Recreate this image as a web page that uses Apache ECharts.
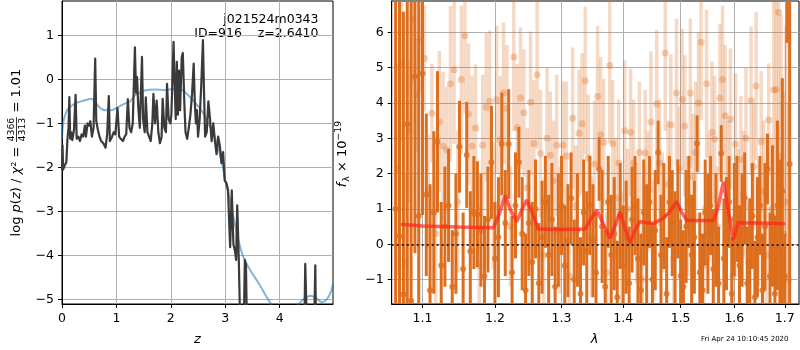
<!DOCTYPE html>
<html><head><meta charset="utf-8">
<script src="https://cdn.jsdelivr.net/npm/echarts@6/dist/echarts.min.js"></script>
<style>html,body{margin:0;padding:0;background:#fff}#c{width:800px;height:350px}</style>
</head><body><div id="c"></div>
<script>
// ---------- left panel: log p(z) ----------
const zTicks = [0, 1, 2, 3, 4];
const logpTicks = [-5, -4, -3, -2, -1, 0, 1];
const pzZ = [0.00,0.01,0.02,0.05,0.08,0.10,0.12,0.135,0.15,0.17,0.19,0.22,0.25,0.27,0.30,0.33,0.36,0.39,0.42,0.44,0.47,0.50,0.52,0.55,0.58,0.61,0.63,0.66,0.69,0.72,0.76,0.80,0.83,0.86,0.88,0.92,0.95,0.98,1.02,1.05,1.08,1.12,1.15,1.18,1.21,1.24,1.27,1.30,1.34,1.36,1.38,1.40,1.43,1.45,1.47,1.49,1.52,1.54,1.57,1.60,1.63,1.66,1.68,1.71,1.74,1.77,1.80,1.83,1.85,1.88,1.91,1.93,1.96,1.99,2.01,2.05,2.07,2.09,2.11,2.13,2.15,2.17,2.20,2.22,2.25,2.27,2.30,2.33,2.36,2.39,2.42,2.44,2.46,2.48,2.50,2.53,2.56,2.59,2.61,2.63,2.66,2.69,2.72,2.75,2.78,2.81,2.84,2.87,2.90,2.93,2.96,2.99,3.02,3.05,3.09,3.12,3.15,3.18,3.20,3.22,3.25,3.29,3.33,3.36,3.38,3.41,3.45,3.60,4.40,4.45,4.47,4.49,4.52,4.62,4.655,4.675,4.75,4.98];
const pzLogp = [-2.05,-1.5,-2.05,-1.95,-1.88,-1.35,-1.1,-0.40,-1.35,-1.2,-1.38,-1.15,-0.35,-1.35,-1.3,-1.4,-1.25,-1.3,-1.05,-1.3,-1.0,-1.05,-0.95,-1.3,-1.1,0.47,-0.95,-1.15,-1.3,-1.4,-1.45,-1.55,-1.25,-0.38,-1.4,-1.3,-1.2,-1.25,-0.65,-1.3,-1.35,-1.4,-1.3,-1.25,-0.45,-1.1,-1.2,-1.0,0.73,-0.3,0.05,-0.6,-1.1,-0.3,0.51,-0.9,-1.2,-0.41,-1.2,-1.3,-1.4,-1.0,-0.33,-1.0,-0.48,-1.2,-1.45,-1.3,-0.44,-1.1,-1.2,-0.10,-0.9,-1.0,-0.8,0.85,-0.1,-0.9,0.4,-0.8,0.2,-0.7,0.5,0.6,-0.6,-1.2,-1.35,-1.1,-0.8,-0.33,0.36,-0.5,-1.0,-0.7,-1.3,-0.9,-0.1,0.89,-0.3,-1.3,-1.2,-0.5,-0.9,-1.4,-1.0,-1.4,-1.7,-1.3,-1.5,-1.9,-1.65,-2.3,-2.35,-2.5,-3.81,-2.52,-3.75,-3.9,-4.1,-2.86,-4.15,-6.5,-6.5,-4.1,-4.2,-6.5,-7,-9,-9,-6,-4.19,-4.2,-6.5,-6.5,-4.22,-6.5,-9,-9];
const priorZ = [0,0.02,0.06,0.11,0.2,0.29,0.4,0.54,0.63,0.72,0.8,0.9,1.03,1.15,1.25,1.34,1.43,1.52,1.71,1.9,2.1,2.22,2.38,2.56,2.71,2.83,2.95,3.0,3.06,3.19,3.31,3.43,3.62,3.8,3.95,4.1,4.25,4.35,4.45,4.57,4.68,4.78,4.86,4.94,4.98];
const priorLogp = [-1.35,-1.0,-0.8,-0.67,-0.58,-0.52,-0.48,-0.44,-0.55,-0.67,-0.7,-0.7,-0.63,-0.55,-0.5,-0.36,-0.3,-0.25,-0.23,-0.24,-0.21,-0.25,-0.44,-0.7,-1.04,-1.39,-1.95,-2.3,-2.6,-3.36,-3.96,-4.27,-4.64,-5.02,-5.3,-5.4,-5.3,-5.1,-4.98,-4.91,-4.98,-5.06,-5.0,-4.83,-4.64];

// ---------- right panel: spectrum ----------
const waveTicks = [1.1, 1.2, 1.3, 1.4, 1.5, 1.6, 1.7];
const fluxTicks = [-1, 0, 1, 2, 3, 4, 5, 6];
const darkWave = [1.065,1.070,1.075,1.080,1.085,1.090,1.095,1.100,1.105,1.110,
1.115,1.120,1.125,1.130,1.135,1.140,1.145,1.150,1.155,1.160,
1.165,1.170,1.175,1.180,1.185,1.190,1.195,1.200,1.205,1.210,
1.215,1.220,1.225,1.230,1.235,1.240,1.245,1.250,1.255,1.260,
1.265,1.270,1.275,1.280,1.285,1.290,1.295,1.300,1.305,1.310,
1.315,1.320,1.325,1.330,1.335,1.340,1.345,1.350,1.355,1.360,
1.365,1.370,1.375,1.380,1.385,1.390,1.395,1.400,1.405,1.410,
1.415,1.420,1.425,1.430,1.435,1.440,1.445,1.450,1.455,1.460,
1.465,1.470,1.475,1.480,1.485,1.490,1.495,1.500,1.505,1.510,
1.515,1.520,1.525,1.530,1.535,1.540,1.545,1.550,1.555,1.560,
1.565,1.570,1.575,1.580,1.585,1.590,1.595,1.600,1.605,1.610,
1.615,1.620,1.625,1.630,1.635,1.640,1.645,1.650,1.655,1.660,
1.665,1.670,1.675,1.680,1.685,1.690,1.695,1.700,1.705,1.710];
const darkFlux = [1.0,0.23,-1.42,3.4,-1.6,4.75,0.8,4.83,1.4,-1.3,
0.9,2.9,-0.6,0.5,1.1,-1.2,0.3,2.76,-0.7,2.53,
-0.2,0.9,0.85,0.4,-0.9,0.7,2.32,-0.4,0.2,2.84,
0.6,2.84,-0.8,1.1,2.32,0.3,-1.3,0.6,-0.5,1.0,
-1.1,0.2,1.2,-0.3,0.7,-1.2,0.4,1.1,-0.6,0.1,
1.3,-1.0,0.4,-1.4,0.9,-0.2,1.1,0.1,-0.8,2.13,
0.5,-1.2,1.2,-0.3,0.3,-1.5,0.8,-0.6,0.2,-1.1,
0.7,1.1,-0.4,-1.3,0.9,0.0,1.2,-1.0,0.4,2.6,
-0.3,0.8,-1.4,1.2,0.6,-0.2,1.0,-0.9,-1.2,0.5,
1.2,-0.3,0.2,2.85,-0.8,-1.3,0.9,0.3,1.1,-0.7,
0.4,-1.1,2.57,-0.4,0.3,1.2,-1.4,0.7,1.0,-0.6,
0.4,1.3,-1.1,-0.4,0.8,-1.5,0.2,1.1,-1.3,0.5,
2.13,-0.9,0.8,-1.4,1.1,-0.4,1.5,-0.9,8.0,2.27];
const darkErr = [9,8,8,6,9,5,7,4,2.3,3,
2.3,2.0,1.8,1.7,1.6,1.6,1.7,1.3,1.6,1.5,
1.7,1.6,1.5,1.6,1.7,1.5,1.6,1.6,1.7,1.45,
1.5,1.55,1.6,1.5,1.0,1.6,1.6,1.5,1.7,1.4,
1.7,1.6,1.3,1.7,1.6,1.7,1.6,1.4,1.7,1.6,
1.3,1.7,1.6,1.6,1.5,1.7,1.4,1.6,1.7,0.9,
1.6,1.6,1.3,1.7,1.6,1.6,1.5,1.7,1.6,1.6,
1.5,1.4,1.7,1.6,1.5,1.7,1.3,1.6,1.7,0.9,
1.7,1.5,1.6,1.3,1.5,1.7,1.4,1.6,1.6,1.6,
1.3,1.7,1.6,0.8,1.7,1.6,1.5,1.7,1.4,1.7,
1.6,1.6,0.8,1.7,1.6,1.3,1.6,1.6,1.5,1.7,
1.6,1.3,1.6,1.7,1.5,1.6,1.7,1.4,1.6,1.8,
1.0,1.8,2.0,2.2,2.4,2.8,3.2,1.2,2.3,9];
const lightWave = [1.0675,1.0725,1.0775,1.0825,1.0875,1.0925,1.0975,1.1025,1.1075,1.1125,
1.1175,1.1225,1.1275,1.1325,1.1375,1.1425,1.1475,1.1525,1.1575,1.1625,
1.1675,1.1725,1.1775,1.1825,1.1875,1.1925,1.1975,1.2025,1.2075,1.2125,
1.2175,1.2225,1.2275,1.2325,1.2375,1.2425,1.2475,1.2525,1.2575,1.2625,
1.2675,1.2725,1.2775,1.2825,1.2875,1.2925,1.2975,1.3025,1.3075,1.3125,
1.3175,1.3225,1.3275,1.3325,1.3375,1.3425,1.3475,1.3525,1.3575,1.3625,
1.3675,1.3725,1.3775,1.3825,1.3875,1.3925,1.3975,1.4025,1.4075,1.4125,
1.4175,1.4225,1.4275,1.4325,1.4375,1.4425,1.4475,1.4525,1.4575,1.4625,
1.4675,1.4725,1.4775,1.4825,1.4875,1.4925,1.4975,1.5025,1.5075,1.5125,
1.5175,1.5225,1.5275,1.5325,1.5375,1.5425,1.5475,1.5525,1.5575,1.5625,
1.5675,1.5725,1.5775,1.5825,1.5875,1.5925,1.5975,1.6025,1.6075,1.6125,
1.6175,1.6225,1.6275,1.6325,1.6375,1.6425,1.6475,1.6525,1.6575,1.6625,
1.6675,1.6725,1.6775,1.6825,1.6875,1.6925,1.6975,1.7025,1.7075];
const lightFlux = [2.1,5.1,-0.5,3.2,6.37,4.23,5.79,5.26,1.5,3.71,
0.3,3.47,2.78,2.67,4.54,4.94,1.2,4.66,5.9,3.68,
2.78,3.29,-0.6,2.8,3.88,4.05,1.1,4.09,2.96,4.28,
3.84,0.5,5.3,3.3,4.14,3.72,1.6,4.02,2.85,4.8,
2.57,-0.3,3.0,2.52,1.8,2.8,0.4,2.81,2.5,-0.9,
3.57,1.1,3.14,3.41,4.63,2.44,0.2,2.27,4.18,3.1,
2.88,-0.8,5.06,2.85,1.3,2.3,-0.2,3.21,1.0,3.17,
2.3,0.6,2.6,-1.0,2.58,1.5,3.46,0.1,3.97,2.3,
0.9,5.41,1.7,3.38,-0.4,4.28,2.1,4.1,3.35,0.8,
4.28,1.9,2.6,4.0,5.72,-0.6,4.54,1.3,3.17,2.97,
0.5,4.14,4.66,3.64,1.7,3.54,-0.9,2.83,0.9,2.4,
1.4,3.0,-0.5,4.06,2.2,4.48,0.6,2.9,1.5,-0.3,
3.52,1.0,4.37,4.37,6.57,2.5,0.3,1.2,-1.0];
const lightErr = [3.0,2.2,2.5,2.0,1.8,1.6,1.5,1.5,1.6,1.4,
2.1,2.0,2.1,1.8,2.2,2.1,2.0,2.1,2.2,2.0,
2.0,1.8,1.7,2.0,2.1,2.0,1.8,2.1,1.8,2.0,
1.8,1.7,2.1,1.8,2.0,1.8,1.7,2.0,1.8,2.1,
1.8,1.7,2.0,1.8,1.7,2.0,1.8,1.8,2.1,1.7,
2.0,1.7,1.8,2.0,2.1,1.8,1.7,1.8,2.0,2.2,
1.8,1.7,2.2,1.8,1.7,1.8,1.7,2.0,1.7,1.8,
1.8,1.7,2.0,1.7,1.8,1.7,2.0,1.7,2.1,1.8,
1.7,2.2,1.8,2.0,1.7,2.1,1.8,2.0,2.0,1.7,
2.1,1.8,2.0,2.0,2.2,1.7,2.1,1.8,2.0,1.8,
1.7,2.1,2.1,2.0,1.8,2.0,1.7,2.0,1.8,1.8,
1.8,2.0,1.7,2.1,1.8,2.1,1.8,2.0,2.0,1.8,
1.6,2.0,3.5,4.5,5.0,4.0,4.0,5.0,5.0];
const modelWave = [1.072,1.10,1.15,1.198,1.207,1.2146,1.222,1.2321,1.240,1.2467,1.255,1.2642,1.30,1.3373,1.346,1.3564,1.366,1.378,1.387,1.3945,1.403,1.4114,1.42,1.4286,1.4518,1.4693,1.482,1.4932,1.502,1.5114,1.5608,1.570,1.5789,1.588,1.5979,1.607,1.65,1.7005];
const modelFlux = [0.57,0.52,0.49,0.47,0.9,1.38,1.0,0.64,1.0,1.25,0.9,0.43,0.42,0.43,0.7,0.97,0.6,0.17,0.55,0.92,0.45,0.03,0.4,0.64,0.59,0.74,0.95,1.21,0.9,0.67,0.67,1.1,1.77,1.0,0.12,0.61,0.6,0.58];

// ---------- rendering ----------
const FONT = 'DejaVu Sans';
const FS = 12.5;
const LFS = 13;
const DARK = '#dc6e1e';
const LIGHT_BAR = 'rgba(220,110,30,0.26)';
const LIGHT_DOT = 'rgba(220,110,30,0.4)';
const lg = v => Math.log10(v);
const minus = v => String(v).replace('-', '\u2212');

const chart = echarts.init(document.getElementById('c'), null, {renderer: 'canvas', width: 800, height: 350});

function barData(w, f, e) { return w.map((x, i) => [lg(x), f[i] - e[i], f[i] + e[i]]); }
function barRender(color, bw) {
  return function (params, api) {
    const x = api.value(0);
    const a = api.coord([x, api.value(2)]);
    const b = api.coord([x, api.value(1)]);
    const cs = params.coordSys;
    const y1 = Math.max(a[1], cs.y), y2 = Math.min(b[1], cs.y + cs.height);
    if (y2 <= y1) return;
    return {type: 'rect', shape: {x: a[0] - bw / 2, y: y1, width: bw, height: y2 - y1}, style: {fill: color}};
  };
}

const axCommon = {
  axisLine: {show: true, onZero: false, lineStyle: {color: '#000', width: 1}},
  splitLine: {show: true, lineStyle: {color: '#b0b0b0', width: 1}},
};
function mkAxis(grid, min, max, ticks, fmt) {
  return Object.assign({
    gridIndex: grid, type: 'value', min: min, max: max,
    axisTick: {show: true, inside: false, length: 4, lineStyle: {color: '#000'}, customValues: ticks},
    axisLabel: {customValues: ticks, formatter: fmt, color: '#000', fontSize: FS, fontFamily: FONT},
  }, axCommon);
}

const mctx = document.createElement('canvas').getContext('2d');
function tw(t, size, italic) { mctx.font = (italic ? 'italic ' : '') + size + 'px "' + FONT + '"'; return mctx.measureText(t).width; }
function txt(x, y, t, size, italic, align) {
  return {type: 'text', x: x, y: y, style: {text: t, font: (italic ? 'italic ' : '') + size + 'px "' + FONT + '"', fill: '#000',
    align: align || 'left', verticalAlign: 'middle', textAlign: align || 'left', textVerticalAlign: 'middle'}};
}

// left rotated y label: log p(z) / chi^2 = 4366/4313 = 1.01
const small = LFS * 0.72;
const yl1 = [['log ', 0], ['p', 1], ['(', 0], ['z', 1], [') / ', 0], ['χ', 1], ['²', 0], [' = ', 0]];
const leftChildren = [];
let cx = 0;
yl1.forEach(s => { leftChildren.push(txt(cx, 0, s[0], LFS, s[1])); cx += tw(s[0], LFS, s[1]); });
const wNum = Math.max(tw('4366', small), tw('4313', small)) + 2;
leftChildren.push(txt(cx + wNum / 2, -5.5, '4366', small, 0, 'center'));
leftChildren.push({type: 'line', shape: {x1: cx + 0.5, y1: -0.5, x2: cx + wNum - 0.5, y2: -0.5}, style: {stroke: '#000', lineWidth: 0.8}});
leftChildren.push(txt(cx + wNum / 2, 5.5, '4313', small, 0, 'center'));
cx += wNum;
leftChildren.push(txt(cx, 0, ' = 1.01', LFS, 0));
const L = cx + tw(' = 1.01', LFS);

// right rotated y label: f_lambda x 10^-19
const rightChildren = [];
let rx = 0;
const rs = [['f', LFS, 1, 0, 1], ['λ', small, 0, 3.5, 0], [' × 10', LFS, 0, 0, 0], ['\u221219', small, 0, -4.5, 0]];
rs.forEach(s => { rightChildren.push(txt(rx, s[3], s[0], s[1], s[2])); rx += tw(s[0], s[1], s[2]) + s[4]; });
const RL = rx;

const option = {
  animation: false,
  textStyle: {fontFamily: FONT},
  grid: [
    {left: 62, right: 467, top: 1, bottom: 46, show: true, borderColor: '#000', borderWidth: 1, backgroundColor: 'transparent'},
    {left: 391.7, right: 1, top: 1, bottom: 46, show: true, borderColor: '#000', borderWidth: 1, backgroundColor: 'transparent'}
  ],
  xAxis: [
    mkAxis(0, 0, 4.98, zTicks, v => minus(v)),
    mkAxis(1, lg(1.06), lg(1.7293), waveTicks.map(lg), v => Math.pow(10, v).toFixed(1))
  ],
  yAxis: [
    mkAxis(0, -5.10, 1.78, logpTicks, v => minus(v)),
    mkAxis(1, -1.69, 6.885, fluxTicks, v => minus(v))
  ],
  graphic: [
    txt(318.5, 20, 'j021524m0343', FS, 0, 'right'),
    txt(318.5, 33.5, 'ID=916    z=2.6410', FS, 0, 'right'),
    txt(197.5, 339.5, 'z', LFS, 1, 'center'),
    txt(594.5, 339.5, 'λ', LFS, 1, 'center'),
    txt(788.5, 339.5, 'Fri Apr 24 10:10:45 2020', 7, 0, 'right'),
    {type: 'group', x: 17, y: 152.5 + L / 2, rotation: Math.PI / 2, children: leftChildren},
    {type: 'group', x: 343, y: 154 + RL / 2, rotation: Math.PI / 2, children: rightChildren}
  ],
  series: [
    {type: 'line', xAxisIndex: 0, yAxisIndex: 0, data: priorZ.map((z, i) => [z, priorLogp[i]]), showSymbol: false, smooth: 0.3, clip: true,
     lineStyle: {color: 'rgba(31,119,180,0.55)', width: 2}},
    {type: 'line', xAxisIndex: 0, yAxisIndex: 0, data: pzZ.map((z, i) => [z, pzLogp[i]]), showSymbol: false, clip: true,
     lineStyle: {color: '#3a3a3a', width: 2.2, join: 'round'}},
    {type: 'custom', xAxisIndex: 1, yAxisIndex: 1, data: barData(lightWave, lightFlux, lightErr), encode: {x: 0, y: [1, 2]}, renderItem: barRender(LIGHT_BAR, 3.5), clip: true},
    {type: 'scatter', xAxisIndex: 1, yAxisIndex: 1, data: lightWave.map((w, i) => [lg(w), lightFlux[i]]), symbolSize: 7, itemStyle: {color: LIGHT_DOT}, clip: true},
    {type: 'custom', xAxisIndex: 1, yAxisIndex: 1, data: barData(darkWave, darkFlux, darkErr), encode: {x: 0, y: [1, 2]}, renderItem: barRender(DARK, 3), clip: true},
    {type: 'scatter', xAxisIndex: 1, yAxisIndex: 1, data: darkWave.map((w, i) => [lg(w), darkFlux[i]]), symbolSize: 6, itemStyle: {color: DARK}, clip: true},
    {type: 'line', xAxisIndex: 1, yAxisIndex: 1, data: modelWave.map((w, i) => [lg(w), modelFlux[i]]), showSymbol: false, clip: true,
     lineStyle: {color: 'rgba(255,35,30,0.7)', width: 3.5},
     markLine: {silent: true, symbol: 'none', label: {show: false}, data: [{yAxis: 0}], lineStyle: {color: '#000', type: [2, 3], width: 1.6}}}
  ]
};
chart.setOption(option);
</script></body></html>
